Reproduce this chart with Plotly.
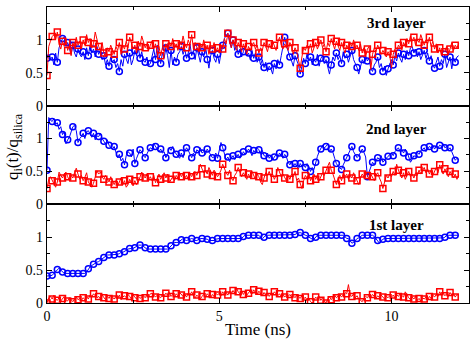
import numpy as np
import plotly.graph_objects as go
from plotly.subplots import make_subplots

# time axis, one sample every 0.05 ns
time_ns = np.round(np.arange(240) * 0.05, 2)

# 3rd layer
blue_3rd = [
    0.72,0.78,0.70,0.74,0.62,0.80,0.66,0.88,0.95,1.02,1.04,0.90,0.96,0.85,0.78,0.92,0.80,0.74,0.86,0.78,
    0.74,0.82,0.70,0.88,0.76,0.92,0.80,0.86,0.74,0.90,0.78,0.84,0.70,0.76,0.62,0.70,0.60,0.74,0.66,0.70,
    0.58,0.64,0.52,0.70,0.60,0.78,0.72,0.64,0.80,0.62,0.70,0.84,0.76,0.90,0.72,0.82,0.68,0.66,0.74,0.62,
    0.64,0.76,0.86,0.70,0.92,0.78,0.64,0.80,0.72,0.88,0.76,0.58,0.84,0.62,0.74,0.66,0.78,0.82,0.90,0.78,
    0.86,0.72,0.80,0.94,0.76,0.84,0.70,0.88,0.78,0.66,0.82,0.74,0.90,0.70,0.57,0.76,0.84,0.72,0.66,0.78,
    0.64,0.80,0.92,1.02,1.07,1.10,0.96,0.88,1.00,0.84,0.92,0.78,0.86,0.74,0.82,0.90,0.76,0.80,0.70,0.84,
    0.72,0.80,0.66,0.74,0.62,0.70,0.58,0.66,0.52,0.60,0.56,0.48,0.64,0.56,0.70,0.62,0.76,0.88,1.04,0.92,
    0.82,0.74,0.68,0.60,0.76,0.70,0.62,0.48,0.58,0.72,0.64,0.80,0.68,0.74,0.62,0.70,0.66,0.78,0.60,0.72,
    0.76,0.64,0.70,0.56,0.48,0.62,0.74,0.68,0.80,0.70,0.76,0.64,0.82,0.72,0.78,0.66,0.74,0.84,0.70,0.64,
    0.58,0.48,0.62,0.70,0.64,0.76,0.68,0.72,0.56,0.52,0.62,0.66,0.74,0.58,0.64,0.52,0.60,0.46,0.56,0.62,
    0.70,0.62,0.76,0.68,0.80,0.72,0.66,0.78,0.70,0.84,0.76,0.88,0.90,0.80,0.86,0.74,0.82,0.70,0.76,0.84,
    0.72,0.80,0.68,0.76,0.62,0.57,0.66,0.74,0.60,0.70,0.64,0.78,0.58,0.68,0.74,0.56,0.72,0.66,0.74,0.76,
]
red_3rd = [
    0.46,0.90,0.98,1.05,1.08,1.00,1.12,0.94,0.86,0.98,0.90,1.02,0.84,0.92,0.76,0.96,0.88,1.04,0.92,0.98,
    0.86,1.00,0.92,1.08,0.96,1.02,0.88,0.94,1.12,0.98,0.90,0.84,0.96,0.80,0.74,0.88,0.82,0.92,0.86,0.78,
    0.90,0.84,0.96,0.78,0.92,0.86,0.98,0.88,1.04,0.94,0.86,0.92,0.80,0.98,0.90,1.06,0.96,0.88,0.94,0.84,
    0.92,0.98,0.86,0.94,0.80,0.90,0.76,0.88,0.82,0.94,0.86,0.96,0.90,1.02,0.88,0.94,0.84,0.98,0.92,1.06,
    0.94,0.88,1.00,0.92,1.08,0.86,0.96,0.90,0.82,0.94,0.88,1.00,0.84,0.92,0.78,0.90,0.86,0.96,0.82,0.88,
    0.80,0.92,0.86,1.02,0.94,1.10,0.96,0.88,1.00,0.92,0.84,0.96,0.90,0.82,0.94,0.86,0.78,0.90,0.84,0.92,
    0.96,0.86,0.92,0.80,0.88,0.84,0.96,0.90,0.82,0.94,0.88,0.98,0.92,0.84,0.96,1.04,0.92,0.86,0.94,0.90,
    0.84,0.96,0.90,0.78,0.88,0.82,0.70,0.57,0.74,0.88,0.84,0.92,0.86,0.94,0.80,0.90,0.96,0.86,0.92,1.00,
    0.88,0.94,0.82,0.96,0.90,1.02,0.94,0.86,0.98,0.92,0.84,0.96,0.88,0.80,0.92,0.86,0.96,0.90,1.00,0.88,
    0.92,0.84,0.94,0.80,0.88,0.74,0.86,0.90,0.55,0.78,0.88,0.82,0.92,0.86,0.78,0.84,0.80,0.74,0.82,0.76,
    0.57,0.78,0.86,0.82,0.92,0.88,0.84,0.96,0.90,1.02,0.94,1.06,0.98,1.04,0.92,1.00,0.96,1.08,0.98,0.92,
    1.00,0.94,1.04,0.90,0.98,0.86,0.94,0.80,0.88,0.76,0.84,0.82,0.90,0.78,0.86,0.96,0.84,0.92,0.88,0.94,
]

# 2nd layer
blue_2nd = [
    0.52,1.32,1.28,1.26,1.30,1.22,1.24,1.14,1.18,1.06,1.10,0.92,0.98,1.02,1.10,1.18,1.20,1.12,0.94,1.00,
    1.03,1.08,1.00,1.10,1.12,1.06,1.02,1.08,0.98,1.04,1.03,1.08,1.00,0.96,0.92,0.98,0.90,0.86,0.84,0.88,
    0.80,0.71,0.76,0.66,0.70,0.60,0.74,0.80,0.78,0.72,0.84,0.62,0.70,0.76,0.83,0.80,0.74,0.71,0.78,0.82,
    0.86,0.84,0.92,0.88,0.86,0.80,0.84,0.78,0.80,0.71,0.76,0.86,0.82,0.88,0.80,0.76,0.72,0.70,0.78,0.71,
    0.80,0.86,0.82,0.76,0.71,0.78,0.74,0.83,0.80,0.86,0.78,0.80,0.76,0.84,0.80,0.76,0.71,0.72,0.78,0.70,
    0.80,0.94,0.86,0.76,0.68,0.72,0.65,0.70,0.74,0.68,0.73,0.76,0.70,0.73,0.80,0.76,0.79,0.84,0.80,0.74,
    0.82,0.78,0.86,0.83,0.76,0.82,0.74,0.73,0.78,0.70,0.74,0.68,0.72,0.76,0.71,0.78,0.74,0.70,0.76,0.72,
    0.64,0.60,0.66,0.58,0.62,0.58,0.54,0.62,0.58,0.60,0.56,0.62,0.58,0.50,0.56,0.53,0.64,0.73,0.80,0.84,
    0.90,0.86,0.88,0.92,0.80,0.84,0.79,0.70,0.62,0.58,0.56,0.53,0.60,0.66,0.71,0.76,0.83,0.88,0.80,0.76,
    0.71,0.74,0.80,0.84,0.79,0.72,0.42,0.50,0.58,0.64,0.60,0.66,0.71,0.68,0.74,0.64,0.68,0.70,0.73,0.76,
    0.78,0.74,0.80,0.83,0.86,0.80,0.83,0.78,0.84,0.80,0.72,0.64,0.68,0.74,0.72,0.79,0.76,0.82,0.83,0.86,
    0.80,0.84,0.88,0.86,0.90,0.84,0.88,0.86,0.90,0.88,0.92,0.86,0.88,0.83,0.86,0.80,0.74,0.67,0.70,0.68,
]
red_2nd = [
    0.24,0.38,0.42,0.36,0.30,0.26,0.34,0.49,0.44,0.40,0.46,0.49,0.42,0.36,0.44,0.40,0.48,0.55,0.46,0.38,
    0.44,0.36,0.41,0.48,0.34,0.30,0.26,0.32,0.40,0.51,0.46,0.49,0.42,0.38,0.44,0.38,0.34,0.42,0.36,0.30,
    0.36,0.28,0.34,0.40,0.30,0.36,0.26,0.30,0.38,0.32,0.28,0.36,0.30,0.34,0.42,0.49,0.44,0.40,0.46,0.38,
    0.42,0.36,0.44,0.33,0.40,0.46,0.38,0.44,0.48,0.40,0.46,0.33,0.38,0.42,0.36,0.44,0.40,0.48,0.42,0.46,
    0.40,0.44,0.38,0.46,0.42,0.48,0.50,0.44,0.52,0.61,0.54,0.48,0.52,0.46,0.56,0.50,0.44,0.52,0.48,0.42,
    0.46,0.52,0.61,0.54,0.48,0.44,0.52,0.40,0.36,0.44,0.48,0.56,0.50,0.42,0.48,0.44,0.38,0.46,0.40,0.50,
    0.44,0.38,0.46,0.42,0.34,0.30,0.40,0.48,0.44,0.50,0.42,0.46,0.38,0.44,0.56,0.48,0.42,0.46,0.40,0.36,
    0.44,0.38,0.46,0.42,0.50,0.36,0.40,0.30,0.24,0.36,0.44,0.40,0.48,0.36,0.42,0.46,0.38,0.44,0.36,0.42,
    0.48,0.44,0.52,0.58,0.64,0.52,0.46,0.38,0.30,0.40,0.44,0.36,0.48,0.42,0.46,0.38,0.44,0.40,0.48,0.42,
    0.36,0.30,0.40,0.46,0.42,0.50,0.44,0.38,0.46,0.42,0.36,0.44,0.48,0.40,0.34,0.24,0.36,0.44,0.40,0.46,
    0.42,0.50,0.44,0.61,0.52,0.46,0.40,0.48,0.38,0.44,0.50,0.42,0.46,0.40,0.48,0.44,0.52,0.46,0.50,0.56,
    0.48,0.54,0.46,0.52,0.44,0.50,0.56,0.48,0.60,0.52,0.46,0.54,0.48,0.42,0.50,0.44,0.40,0.46,0.38,0.44,
]

# 1st layer
blue_1st = [
    0.41,0.41,0.42,0.42,0.45,0.48,0.51,0.53,0.50,0.47,0.45,0.45,0.45,0.45,0.45,0.45,0.45,0.45,0.45,0.45,
    0.45,0.45,0.45,0.47,0.52,0.55,0.57,0.59,0.60,0.62,0.63,0.65,0.67,0.69,0.71,0.73,0.73,0.73,0.73,0.73,
    0.73,0.74,0.75,0.77,0.77,0.78,0.80,0.82,0.83,0.83,0.83,0.84,0.86,0.88,0.88,0.88,0.86,0.84,0.82,0.82,
    0.82,0.82,0.82,0.82,0.82,0.82,0.82,0.82,0.82,0.82,0.82,0.84,0.87,0.90,0.92,0.92,0.92,0.94,0.96,0.98,
    0.96,0.95,0.96,0.97,0.98,0.97,0.95,0.95,0.97,0.98,0.98,0.98,0.98,0.97,0.95,0.95,0.95,0.95,0.97,0.98,
    0.98,0.98,0.98,0.98,0.98,0.98,0.98,0.98,0.98,0.98,0.98,0.98,0.98,0.98,1.01,1.03,1.03,1.03,1.03,1.03,
    1.03,1.03,1.03,1.03,1.00,0.98,1.00,1.03,1.03,1.03,1.03,1.03,1.03,1.03,1.03,1.03,1.03,1.03,1.03,1.03,
    1.03,1.03,1.03,1.03,1.04,1.06,1.07,1.07,1.06,1.04,1.03,1.02,1.00,0.98,0.97,0.97,1.00,1.03,1.03,1.03,
    1.03,1.03,1.03,1.03,1.03,1.03,1.03,1.03,1.03,1.03,1.03,1.03,1.03,1.01,0.98,0.98,0.95,0.91,0.92,0.96,
    0.98,0.99,1.01,1.03,1.03,1.03,1.03,1.03,1.03,1.03,1.01,0.98,0.95,0.91,0.94,0.97,0.98,0.98,0.98,0.98,
    0.98,0.98,0.98,0.98,0.98,0.98,0.98,0.98,0.98,0.98,0.98,0.98,0.98,0.98,0.98,0.98,0.98,0.98,0.98,0.98,
    0.98,0.98,0.98,0.98,0.98,0.98,0.98,0.98,0.98,0.98,0.99,1.00,1.03,1.03,1.03,1.03,1.03,1.03,1.03,1.03,
]
red_1st = [
    0.00,0.08,0.10,0.06,0.12,0.06,0.04,0.08,0.03,0.07,0.10,0.05,0.03,0.08,0.04,0.02,0.06,0.09,0.05,0.07,
    0.04,0.08,0.05,0.10,0.06,0.12,0.09,0.14,0.11,0.08,0.10,0.06,0.12,0.08,0.05,0.10,0.07,0.12,0.09,0.06,
    0.10,0.07,0.12,0.05,0.09,0.11,0.08,0.13,0.10,0.06,0.12,0.08,0.06,0.10,0.07,0.09,0.11,0.08,0.12,0.10,
    0.14,0.15,0.11,0.09,0.12,0.10,0.08,0.13,0.11,0.15,0.12,0.16,0.10,0.13,0.09,0.14,0.11,0.16,0.12,0.10,
    0.13,0.09,0.15,0.12,0.17,0.11,0.08,0.12,0.09,0.06,0.10,0.13,0.09,0.14,0.11,0.08,0.13,0.10,0.15,0.12,
    0.15,0.11,0.17,0.13,0.16,0.12,0.18,0.14,0.19,0.15,0.23,0.17,0.14,0.18,0.13,0.17,0.12,0.15,0.19,0.14,
    0.20,0.16,0.13,0.18,0.14,0.11,0.16,0.12,0.15,0.10,0.14,0.12,0.17,0.13,0.11,0.14,0.10,0.13,0.09,0.12,
    0.10,0.13,0.09,0.11,0.08,0.12,0.10,0.07,0.11,0.06,0.09,0.04,0.07,0.02,0.00,0.05,0.09,0.06,0.10,0.04,
    0.08,0.03,0.00,0.06,0.10,0.05,0.09,0.12,0.08,0.11,0.13,0.09,0.12,0.16,0.14,0.28,0.12,0.10,0.14,0.08,
    0.11,0.06,0.04,0.02,0.07,0.10,0.08,0.12,0.09,0.13,0.10,0.07,0.11,0.08,0.12,0.09,0.06,0.10,0.08,0.11,
    0.09,0.12,0.08,0.13,0.10,0.14,0.11,0.09,0.17,0.12,0.08,0.05,0.09,0.06,0.10,0.04,0.07,0.03,0.08,0.06,
    0.09,0.05,0.10,0.07,0.12,0.09,0.13,0.10,0.17,0.12,0.15,0.11,0.14,0.10,0.16,0.12,0.14,0.09,0.13,0.11,
]

panels = [
    (1, blue_3rd, red_3rd, "3rd layer", 1.26),
    (2, blue_2nd, red_2nd, "2nd layer", 1.15),
    (3, blue_1st, red_1st, "1st layer", 1.18),
]

BLUE = "#0000ff"
RED = "#ff0000"
FONT = "Liberation Serif"

fig = make_subplots(rows=3, cols=1, shared_xaxes=True, vertical_spacing=0)

for row, blue, red, label, label_y in panels:
    for vals, col, sym in [(blue, BLUE, "circle-open"), (red, RED, "square-open")]:
        fig.add_trace(go.Scatter(x=time_ns, y=vals, mode="lines",
                                 line=dict(color=col, width=1)), row=row, col=1)
        fig.add_trace(go.Scatter(x=time_ns[::3], y=vals[::3], mode="markers",
                                 marker=dict(symbol=sym, size=6, color=col,
                                             line=dict(color=col, width=1.5))),
                      row=row, col=1)
    suffix = "" if row == 1 else str(row)
    fig.add_annotation(x=10.15, y=label_y, xref="x" + suffix, yref="y" + suffix,
                       text=f"<b>{label}</b>", showarrow=False,
                       font=dict(family=FONT, size=15, color="black"))

axis_style = dict(showline=True, linecolor="black", linewidth=1.2, mirror="ticks",
                  ticks="inside", ticklen=5, tickwidth=1.2, tickcolor="black",
                  showgrid=False, zeroline=False,
                  tickfont=dict(family=FONT, size=14, color="black"))

for row in (1, 2, 3):
    fig.update_xaxes(range=[0, 12.25], dtick=5, tick0=0,
                     minor=dict(dtick=2.5, ticks="inside", ticklen=3, tickcolor="black"),
                     showticklabels=(row == 3), row=row, col=1, **axis_style)
    fig.update_yaxes(range=[0, 1.5],
                     tickvals=[0, 0.5, 1, 1.5] if row == 1 else [0, 0.5, 1],
                     ticktext=["0", "0.5", "1", "1.5"] if row == 1 else ["0", "0.5", "1"],
                     minor=dict(dtick=0.25, ticks="inside", ticklen=3, tickcolor="black"),
                     row=row, col=1, **axis_style)

fig.update_xaxes(title=dict(text="Time (ns)", standoff=0,
                            font=dict(family=FONT, size=17, color="black")), row=3, col=1)

fig.add_annotation(x=-0.078, y=0.527, xref="paper", yref="paper", textangle=-90,
                   xanchor="center", yanchor="middle",
                   text="q<sub>i</sub>(t)/q<sub>silica</sub>", showarrow=False,
                   font=dict(family=FONT, size=17, color="black"))

fig.update_layout(width=471, height=339, showlegend=False,
                  margin=dict(l=47, r=2, t=7, b=36),
                  plot_bgcolor="white", paper_bgcolor="white",
                  font=dict(family=FONT, color="black"))

# the page body has a default 8px margin; drop it so the figure fills the window
fig.write_html("out.html", config={"displayModeBar": False},
               post_script="document.body.style.margin='0';")
